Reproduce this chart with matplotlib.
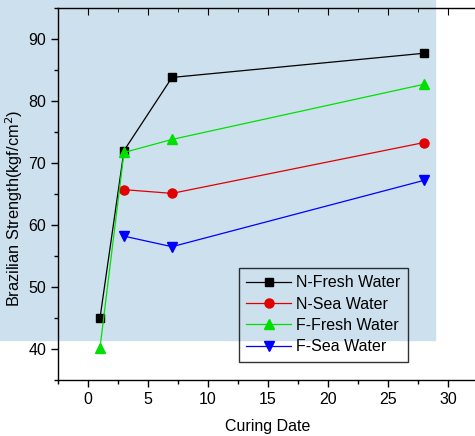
import matplotlib
matplotlib.use("Agg")
import matplotlib.pyplot as plt
from matplotlib.patches import Rectangle
from matplotlib.ticker import MultipleLocator

plt.rcParams['font.family'] = ['Liberation Sans', 'DejaVu Sans']

# curing days and strength (kgf/cm2)
n_fresh_x = [1, 3, 7, 28]
n_fresh_y = [45.0, 72.0, 83.8, 87.7]
n_sea_x = [3, 7, 28]
n_sea_y = [65.7, 65.1, 73.3]
f_fresh_x = [1, 3, 7, 28]
f_fresh_y = [40.2, 71.7, 73.8, 82.7]
f_sea_x = [3, 7, 28]
f_sea_y = [58.2, 56.5, 67.2]

fig = plt.figure(figsize=(4.75, 4.36), dpi=100)

# pale watermark block behind the plot
bg = fig.add_axes([0, 0, 1, 1], zorder=-1)
bg.axis('off')
bg.add_patch(Rectangle((0, 1 - 340 / 436), 435 / 475, 340 / 436,
                       transform=bg.transAxes, color='#cde0ee'))

ax = fig.add_axes([58 / 475, 56 / 436, 420 / 475, 372 / 436])
ax.set_facecolor('none')

ax.plot(n_fresh_x, n_fresh_y, color='black', marker='s', ms=6, lw=0.9, label='N-Fresh Water')
ax.plot(n_sea_x, n_sea_y, color='#e00000', marker='o', ms=6.5, lw=0.9, label='N-Sea Water')
ax.plot(f_fresh_x, f_fresh_y, color='#00e000', marker='^', ms=7, lw=0.9, label='F-Fresh Water')
ax.plot(f_sea_x, f_sea_y, color='#0000ff', marker='v', ms=7, lw=0.9, label='F-Sea Water')

ax.set_xlim(-2.5, 32.5)
ax.set_ylim(35, 95)
ax.xaxis.set_major_locator(MultipleLocator(5))
ax.xaxis.set_minor_locator(MultipleLocator(2.5))
ax.yaxis.set_major_locator(MultipleLocator(10))
ax.yaxis.set_minor_locator(MultipleLocator(5))

ax.spines['right'].set_visible(False)
for s in ['left', 'bottom', 'top']:
    ax.spines[s].set_linewidth(1.0)

ax.tick_params(which='major', direction='out', length=5, width=1, labelsize=11.5)
ax.tick_params(which='minor', direction='out', length=3, width=1)

# top axis ticks point inwards
sec = ax.secondary_xaxis('top')
sec.xaxis.set_major_locator(MultipleLocator(5))
sec.xaxis.set_minor_locator(MultipleLocator(2.5))
sec.tick_params(which='major', direction='in', length=5, labeltop=False)
sec.tick_params(which='minor', direction='in', length=3)
sec.spines['top'].set_visible(False)

ax.set_xlabel('Curing Date', fontsize=11.5, labelpad=9)
ax.set_ylabel('Brazilian Strength(kgf/cm$^2$)', fontsize=11.8)
ax.yaxis.set_label_coords(-0.079, 0.462)

leg = ax.legend(loc='upper left', bbox_to_anchor=(239 / 475, 1 - 268 / 436),
                bbox_transform=fig.transFigure, frameon=True, fancybox=False,
                edgecolor='black', fontsize=11.5, handlelength=2.8,
                borderpad=0.45, labelspacing=0.4, handletextpad=0.35,
                borderaxespad=0)
leg.get_frame().set_linewidth(1.0)
leg.get_frame().set_facecolor('none')

fig.savefig('out.png', dpi=100)
